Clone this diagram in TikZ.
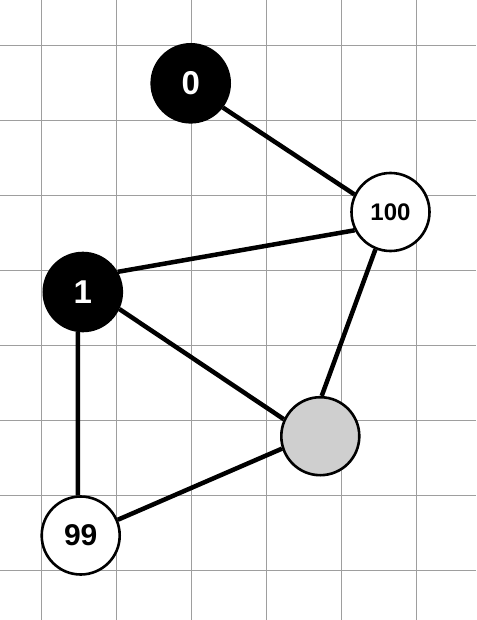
\documentclass[tikz,border=0pt]{standalone}
\usepackage{fontspec}
\setmainfont{Liberation Sans}
\begin{document}
\begin{tikzpicture}[x=1pt,y=-1pt,
  gridline/.style={draw=black!38,line width=1pt},
  vtx/.style={circle,minimum size=78pt,inner sep=0pt,line width=2.6pt,draw=black,font=\bfseries},
  blackv/.style={vtx,fill=black,text=white},
  whitev/.style={vtx,fill=white,text=black},
  grayv/.style={vtx,fill=black!19},
  edge/.style={line width=4.5pt,black}]
\useasboundingbox (0,0) rectangle (476,620);
\fill[white] (0,0) rectangle (476,620);
\foreach \x in {41.5,116.5,191.5,266.5,341.5,416.5} \draw[gridline] (\x,0) -- (\x,620);
\foreach \y in {45.7,120.7,195.7,270.7,345.7,420.7,495.7,570.7} \draw[gridline] (0,\y) -- (476,\y);
\node[blackv,font=\fontsize{33}{33}\bfseries\selectfont] (n0) at (190.7,83.3) {0};
\node[whitev,font=\fontsize{24}{24}\bfseries\selectfont] (n100) at (390.5,212) {100};
\node[blackv,font=\fontsize{33}{33}\bfseries\selectfont] (n1) at (82.8,292) {1};
\node[grayv] (ng) at (320.3,436.2) {};
\node[whitev,font=\fontsize{30}{30}\bfseries\selectfont] (n99) at (80.7,535.5) {99};
\begin{scope}[on background layer/.style={}]
\end{scope}
\draw[edge] (n0.323) -- (n100.154);
\draw[edge] (n1.30) -- (n100.207);
\draw[edge] (n1.335) -- (ng.155);
\draw[edge] (n100.248) -- (ng.88);
\draw[edge] (ng.198) -- (n99.23);
\draw[edge] (n1.263) -- (n99.94);
\end{tikzpicture}
\end{document}
